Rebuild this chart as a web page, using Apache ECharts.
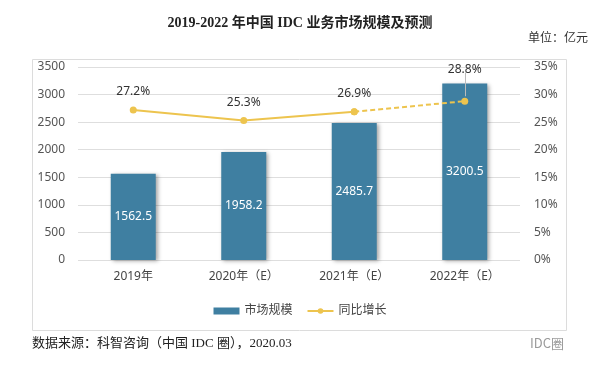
<!DOCTYPE html>
<html><head><meta charset="utf-8">
<script src="https://cdn.jsdelivr.net/npm/echarts@6/dist/echarts.min.js"></script>
<style>html,body{margin:0;padding:0;background:#fff}#c{width:600px;height:367px}</style>
</head><body><div id="c"></div>
<script>
const categories = ['2019年', '2020年（E）', '2021年（E）', '2022年（E）'];
const marketSize = [1562.5, 1958.2, 2485.7, 3200.5];
const growth = [27.2, 25.3, 26.9, 28.8];
const leftTicks = {min: 0, max: 3500, interval: 500};
const rightTicks = {min: 0, max: 35, interval: 5};

const sans = '"Noto Sans", "Noto Sans CJK SC", sans-serif';
const serifMix = '"Liberation Serif", "Noto Sans CJK SC", serif';
const barColor = '#3F7FA1';
const lineColor = '#EDC44E';

const chart = echarts.init(document.getElementById('c'), null, {renderer: 'canvas'});
chart.setOption({
  animation: false,
  backgroundColor: '#fff',
  title: {
    text: '2019-2022 年中国 IDC 业务市场规模及预测',
    left: 'center', top: 11,
    textStyle: {fontFamily: serifMix, fontSize: 14, fontWeight: 'bold', color: '#222'}
  },
  graphic: [
    {type: 'rect', shape: {x: 32.5, y: 59.5, width: 534, height: 271}, style: {fill: 'none', stroke: '#dcdcdc', lineWidth: 1}, z: -1},
    {type: 'text', left: 528, top: 31, style: {text: '单位：亿元', font: '12px "Noto Sans CJK SC"', fill: '#333'}},
    {type: 'text', left: 32, top: 337, style: {text: '数据来源：科智咨询（中国 IDC 圈），2020.03', font: '13px "Liberation Serif", "Noto Sans CJK SC"', fill: '#222'}},
    {type: 'text', left: 530, top: 337, style: {text: 'IDC圈', font: '13px "Noto Sans CJK SC"', fill: '#9a9a9a'}}
  ],
  legend: {
    data: [
      {name: '市场规模', icon: 'rect'},
      {name: '同比增长'}
    ],
    left: 'center', top: 300,
    itemWidth: 26, itemHeight: 7, itemGap: 14,
    textStyle: {fontFamily: sans, fontSize: 12, color: '#444'}
  },
  grid: {left: 78, right: 80, top: 67, bottom: 107},
  xAxis: {
    type: 'category', data: categories,
    axisLine: {show: false}, axisTick: {show: false},
    axisLabel: {fontFamily: sans, fontSize: 12, color: '#444', margin: 11}
  },
  yAxis: [
    {type: 'value', min: leftTicks.min, max: leftTicks.max, interval: leftTicks.interval,
     axisLine: {show: false}, axisTick: {show: false},
     axisLabel: {fontFamily: sans, fontSize: 12, color: '#555', margin: 13, formatter: v => String(v)},
     splitLine: {lineStyle: {color: '#dedede', width: 1}}},
    {type: 'value', min: rightTicks.min, max: rightTicks.max, interval: rightTicks.interval,
     axisLine: {show: false}, axisTick: {show: false},
     axisLabel: {fontFamily: sans, fontSize: 12, color: '#555', margin: 14, formatter: v => v + '%'},
     splitLine: {show: false}}
  ],
  series: [
    {
      name: '市场规模', type: 'bar', data: marketSize, barWidth: 45,
      itemStyle: {color: barColor, shadowColor: 'rgba(0,0,0,0.35)', shadowBlur: 4, shadowOffsetX: 2, shadowOffsetY: 1},
      label: {show: true, position: 'inside', color: '#fff', fontFamily: sans, fontSize: 12, formatter: p => p.value.toFixed(1)}
    },
    {
      name: '同比增长', type: 'line', yAxisIndex: 1,
      data: growth.map((v, i) => i < 3 ? v : null),
      symbol: 'circle', symbolSize: 7,
      lineStyle: {color: lineColor, width: 2}, itemStyle: {color: lineColor},
      label: {show: false}, z: 5
    },
    {
      name: '同比增长', type: 'line', yAxisIndex: 1,
      data: growth.map((v, i) => i >= 2 ? v : null),
      symbol: 'circle', symbolSize: 7,
      lineStyle: {color: lineColor, width: 2, type: [5, 3]}, itemStyle: {color: lineColor},
      label: {show: false}, z: 5
    },
    {
      name: 'labels', type: 'line', yAxisIndex: 1,
      data: growth.map((v, i) => i === 3 ? {value: v, label: {distance: 25}} : v),
      symbol: 'circle', symbolSize: 2, showAllSymbol: true,
      itemStyle: {color: 'rgba(0,0,0,0)'}, lineStyle: {width: 0, opacity: 0}, silent: true, z: 6,
      label: {show: true, position: 'top', distance: 11, fontFamily: sans, fontSize: 12, color: '#333', formatter: p => p.value.toFixed(1) + '%'},
      markLine: {
        silent: true, symbol: 'none', label: {show: false},
        lineStyle: {color: '#bbb', width: 1, type: 'solid'},
        data: [[{coord: [3, 28.8 + 5.2]}, {coord: [3, 28.8 + 0.9]}]]
      }
    }
  ]
});
</script>
</body></html>
